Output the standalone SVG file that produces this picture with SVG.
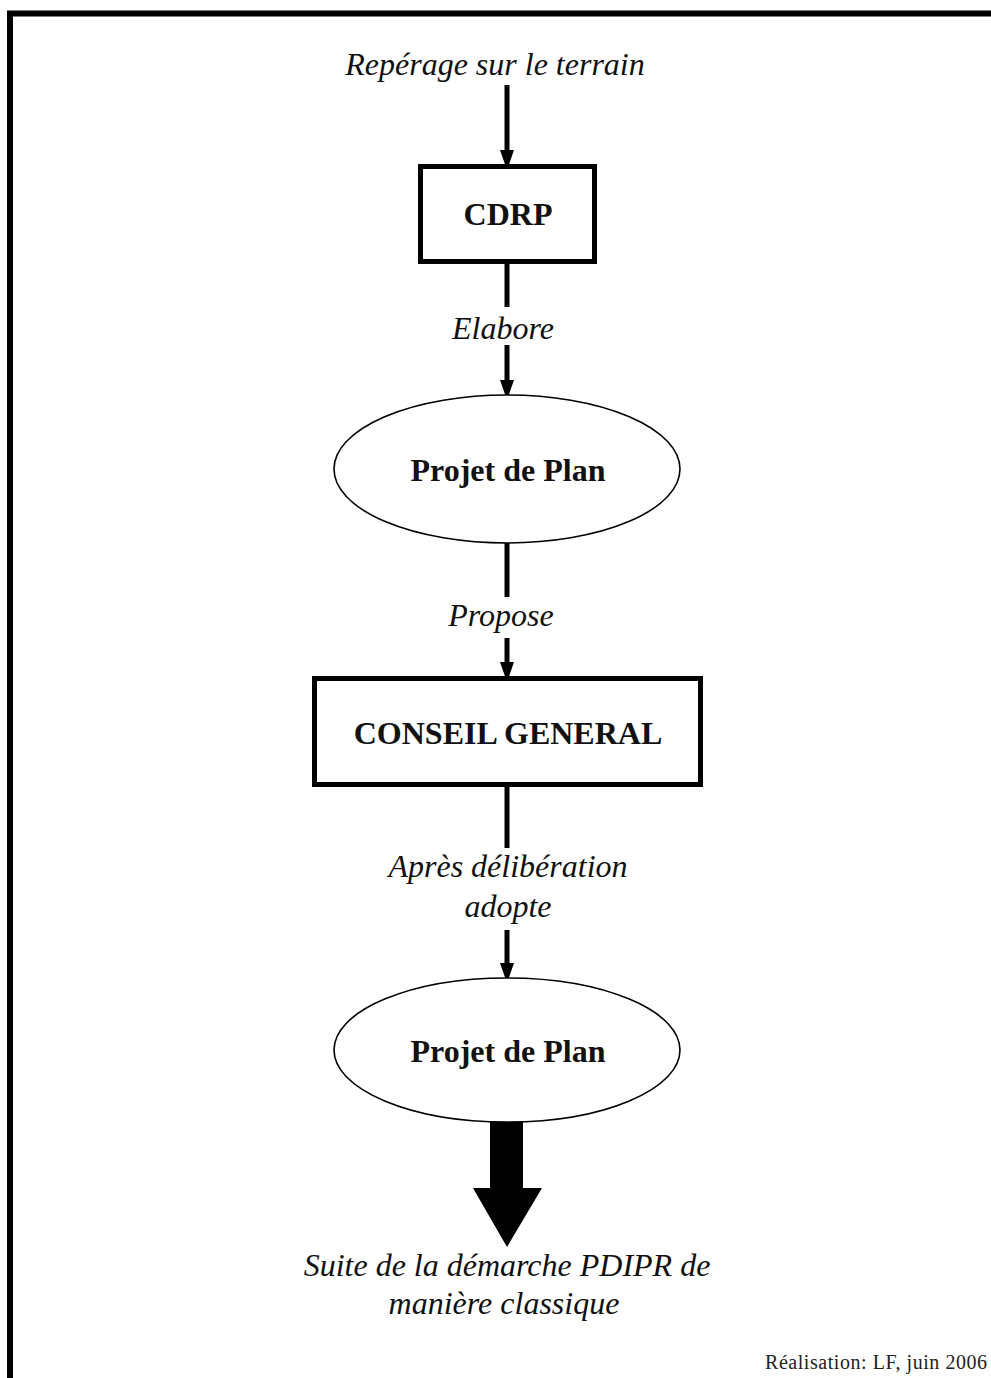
<svg xmlns="http://www.w3.org/2000/svg" width="991" height="1378" viewBox="0 0 991 1378">
<style>
.lbl{font-family:"Liberation Serif","Times New Roman",serif;font-style:italic;font-size:32px;fill:#111;text-anchor:middle}
.nt{font-family:"Liberation Serif","Times New Roman",serif;font-weight:bold;font-size:32px;fill:#111;text-anchor:middle}
.box{fill:#fff;stroke:#000;stroke-width:5}
.ell{fill:#fff;stroke:#000;stroke-width:1.6}
.ln{stroke:#000;stroke-width:5;fill:none}
</style>
<defs>
<marker id="ah" markerWidth="4" markerHeight="4" refX="2" refY="2" orient="auto" markerUnits="strokeWidth">
<path d="M0,0.6 L4,2 L0,3.4 Z" fill="#000"/>
</marker>
</defs>
<rect width="991" height="1378" fill="#fff"/>
<g id="frame">
<path d="M10,1378 V13.5 H991" fill="none" stroke="#000" stroke-width="6"/>
</g>
<g id="connectors">
<path class="ln" d="M507,85 V160" marker-end="url(#ah)"/>
<path class="ln" d="M507,264 V307"/>
<path class="ln" d="M507,345 V390" marker-end="url(#ah)"/>
<path class="ln" d="M507,543 V597"/>
<path class="ln" d="M507,638 V672" marker-end="url(#ah)"/>
<path class="ln" d="M507,787 V848"/>
<path class="ln" d="M507,930 V973" marker-end="url(#ah)"/>
<path d="M490,1121 H523 V1188 H542 L507,1247 L473,1188 H490 Z" fill="#000"/>
</g>
<g id="lbl-reperage"><text class="lbl" x="495" y="75">Repérage sur le terrain</text></g>
<g id="node-cdrp">
<rect class="box" x="420.5" y="166.5" width="174" height="95"/>
<text class="nt" x="508" y="225">CDRP</text>
</g>
<g id="lbl-elabore"><text class="lbl" x="503" y="339">Elabore</text></g>
<g id="node-projet1">
<ellipse class="ell" cx="507" cy="469" rx="173" ry="74"/>
<text class="nt" x="508" y="481">Projet de Plan</text>
</g>
<g id="lbl-propose"><text class="lbl" x="501" y="626">Propose</text></g>
<g id="node-conseil">
<rect class="box" x="314.5" y="678.5" width="386" height="106"/>
<text class="nt" x="508" y="744">CONSEIL GENERAL</text>
</g>
<g id="lbl-apres">
<text class="lbl" x="508" y="877">Après délibération</text>
<text class="lbl" x="508" y="917">adopte</text>
</g>
<g id="node-projet2">
<ellipse class="ell" cx="507" cy="1050" rx="173" ry="72"/>
<text class="nt" x="508" y="1062">Projet de Plan</text>
</g>
<g id="lbl-suite">
<text class="lbl" x="507" y="1276">Suite de la démarche PDIPR de</text>
<text class="lbl" x="504" y="1314">manière classique</text>
</g>
<g id="credit">
<text x="987" y="1369" font-family="'Liberation Serif','Times New Roman',serif" font-size="20" fill="#222" text-anchor="end" textLength="222" lengthAdjust="spacing">Réalisation: LF, juin 2006</text>
</g>
</svg>
